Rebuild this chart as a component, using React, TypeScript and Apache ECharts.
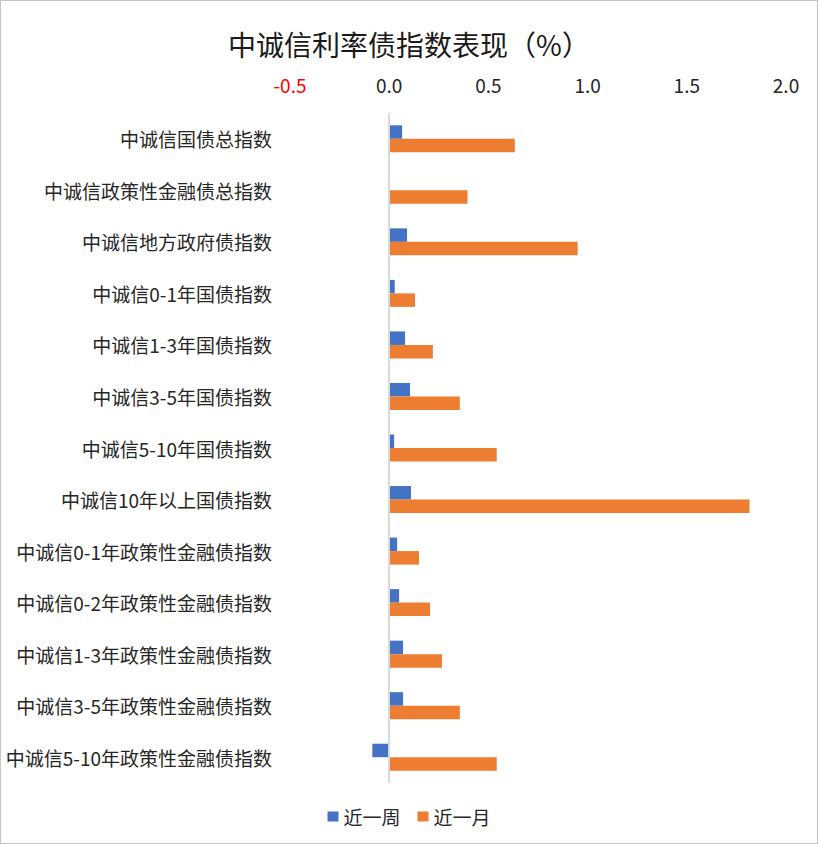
import { useEffect, useRef } from 'react';
import * as echarts from 'echarts';

const categories = [
  '中诚信国债总指数',
  '中诚信政策性金融债总指数',
  '中诚信地方政府债指数',
  '中诚信0-1年国债指数',
  '中诚信1-3年国债指数',
  '中诚信3-5年国债指数',
  '中诚信5-10年国债指数',
  '中诚信10年以上国债指数',
  '中诚信0-1年政策性金融债指数',
  '中诚信0-2年政策性金融债指数',
  '中诚信1-3年政策性金融债指数',
  '中诚信3-5年政策性金融债指数',
  '中诚信5-10年政策性金融债指数',
];

const weekValues = [0.065, 0, 0.09, 0.028, 0.08, 0.105, 0.025, 0.11, 0.04, 0.05, 0.07, 0.07, -0.085];
const monthValues = [0.633, 0.395, 0.95, 0.13, 0.22, 0.356, 0.542, 1.816, 0.15, 0.206, 0.266, 0.356, 0.542];

const seriesNames = ['近一周', '近一月'];
const FONT = '"Noto Sans CJK SC", "Microsoft YaHei", sans-serif';

export default function App() {
  const chartRef = useRef<HTMLDivElement>(null);

  useEffect(() => {
    if (!chartRef.current) return;
    const chart = echarts.init(chartRef.current, undefined, { renderer: 'svg' });

    const option: echarts.EChartsOption = {
      animation: false,
      textStyle: { fontFamily: FONT },
      title: {
        text: '中诚信利率债指数表现（%）',
        left: 'center',
        top: 24,
        textStyle: { fontFamily: FONT, fontSize: 28, fontWeight: 'normal', color: '#1a1a1a' },
      },
      legend: {
        data: seriesNames,
        left: 'center',
        top: 801,
        itemWidth: 11,
        itemHeight: 10,
        itemGap: 17,
        icon: 'rect',
        textStyle: { fontFamily: FONT, fontSize: 19, color: '#262626' },
      },
      grid: { left: 289, right: 31, top: 112, bottom: 60, containLabel: false },
      xAxis: {
        type: 'value',
        position: 'top',
        min: -0.5,
        max: 2,
        interval: 0.5,
        axisLine: { show: false },
        axisTick: { show: false },
        splitLine: { show: false },
        axisLabel: {
          margin: 19,
          fontSize: 19,
          fontFamily: FONT,
          formatter: (v: number) => v.toFixed(1),
          color: ((v: number) => (v < 0 ? '#ff0000' : '#262626')) as any,
        },
      },
      yAxis: {
        type: 'category',
        data: categories,
        inverse: true,
        axisLine: { show: false },
        axisTick: { show: false },
        axisLabel: { margin: 18, fontSize: 19, fontFamily: FONT, color: '#262626' },
      },
      series: [
        {
          name: seriesNames[0],
          type: 'bar',
          data: weekValues,
          barWidth: 13.5,
          barGap: '0%',
          itemStyle: { color: '#4472C4' },
          markLine: {
            silent: true,
            symbol: 'none',
            label: { show: false },
            lineStyle: { color: '#d9d9d9', width: 2, type: 'solid' },
            data: [{ xAxis: 0 }],
          },
        },
        {
          name: seriesNames[1],
          type: 'bar',
          data: monthValues,
          barWidth: 13.5,
          barGap: '0%',
          itemStyle: { color: '#ED7D31' },
        },
      ],
    };

    chart.setOption(option);
    return () => chart.dispose();
  }, []);

  return (
    <div
      style={{
        position: 'absolute',
        left: 0,
        top: 0,
        width: 818,
        height: 844,
        boxSizing: 'border-box',
        border: '1px solid #c4c4c4',
        background: '#fff',
      }}
    >
      <div ref={chartRef} style={{ width: 816, height: 842 }} />
    </div>
  );
}
